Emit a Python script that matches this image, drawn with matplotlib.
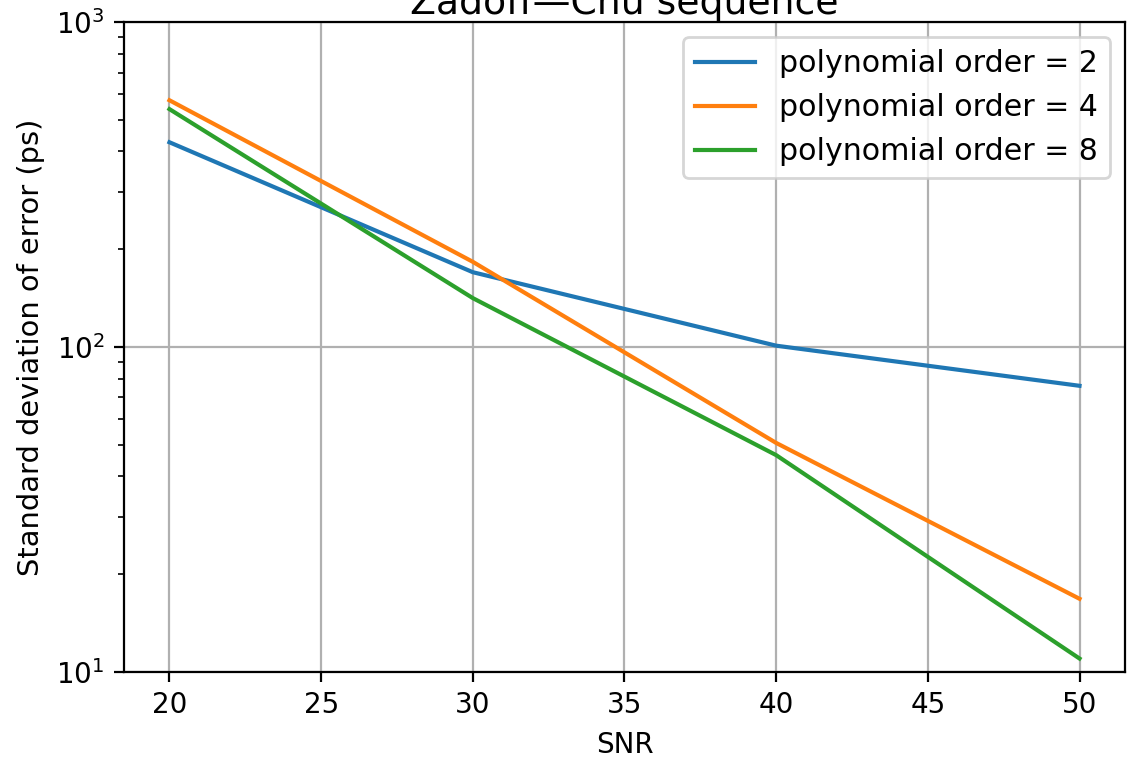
import matplotlib
matplotlib.use('Agg')
import matplotlib.pyplot as plt

snr = [20, 30, 40, 50]
std_order2 = [427, 170, 101, 76]
std_order4 = [575, 183, 50.7, 16.8]
std_order8 = [540, 141.5, 46.5, 11.0]
labels = ['polynomial order = 2', 'polynomial order = 4', 'polynomial order = 8']

fig = plt.figure(figsize=(5.655, 3.825), dpi=200)
ax = fig.add_subplot(111)
fig.subplots_adjust(left=0.1096, right=0.9947, bottom=0.1216, top=0.971)

for ys, lab in zip([std_order2, std_order4, std_order8], labels):
    ax.plot(snr, ys, label=lab)

ax.set_yscale('log')
ax.set_ylim(10, 1000)
ax.set_xticks([20, 25, 30, 35, 40, 45, 50])
ax.grid(True)
ax.set_xlabel('SNR')
ax.set_ylabel('Standard deviation of error (ps)', fontsize=10.4)
ax.set_title('Zadoff—Chu sequence', fontsize=13.6, pad=2.5)
ax.legend(loc='upper right', fontsize=10.8)

fig.savefig('out.png', dpi=200)
